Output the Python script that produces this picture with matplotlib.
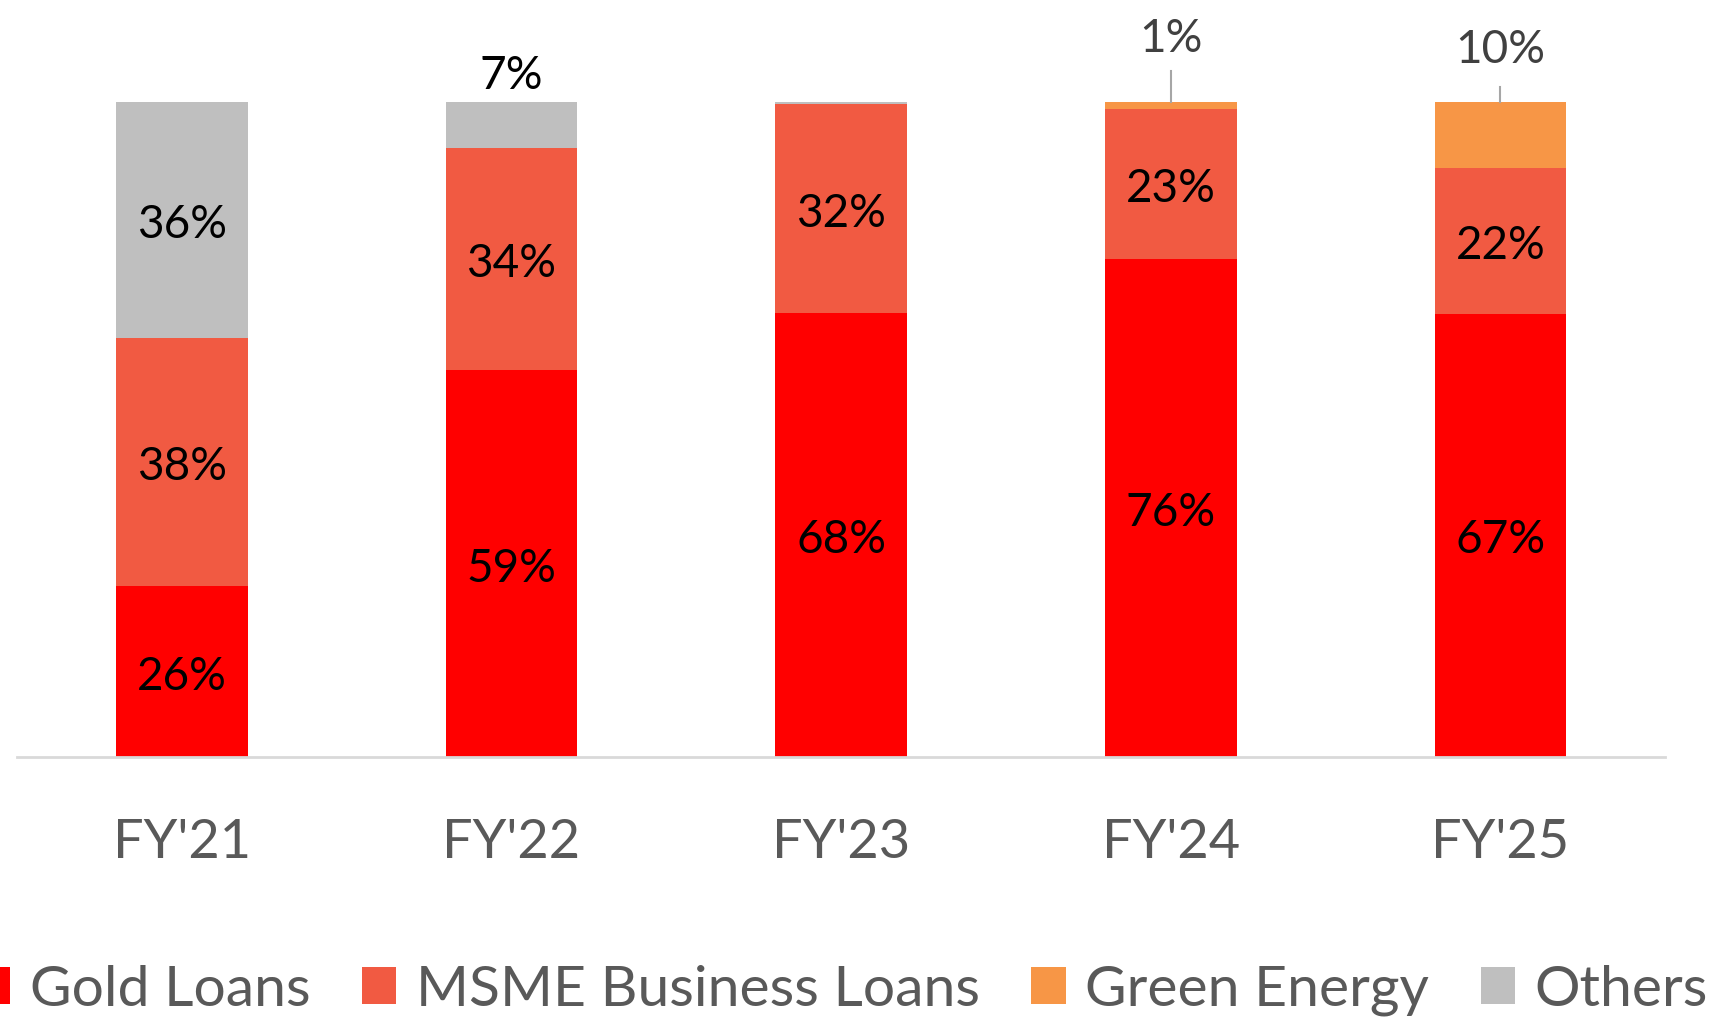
import numpy as np
import matplotlib.pyplot as plt
from matplotlib.patches import Patch

years = ["FY'21", "FY'22", "FY'23", "FY'24", "FY'25"]
gold = [26, 59, 68, 76, 67]
msme = [38, 34, 32, 23, 22]
green = [0, 0, 0, 1, 10]
others = [36, 7, 0.3, 0, 0]

series_names = ['Gold Loans', 'MSME Business Loans', 'Green Energy', 'Others']
colors = ['#FF0000', '#F15A42', '#F79646', '#BFBFBF']

plt.rcParams['font.family'] = ['Lato', 'DejaVu Sans']

fig = plt.figure(figsize=(17.15, 10.21), dpi=100)
ax = fig.add_axes([0.0099, 0.2589, 0.9611, 0.6412])

# stacked to 100%
data = np.array([gold, msme, green, others], dtype=float)
totals = data.sum(axis=0)
pct = data / totals * 100

x = np.arange(len(years))
bottom = np.zeros(len(years))
for i in range(4):
    ax.bar(x, pct[i], 0.4, bottom=bottom, color=colors[i], edgecolor='none')
    for j in range(len(years)):
        v = data[i][j]
        if v >= 20:
            ax.text(x[j], bottom[j] + pct[i][j] / 2 - 0.8, f'{v:.0f}%', ha='center', va='center',
                    fontsize=33, color='black')
    bottom += pct[i]

# small segments get their label above the bar
ax.text(x[1], 104, f'{others[1]:.0f}%', ha='center', va='center', fontsize=33, color='black')
ax.plot([x[3], x[3]], [100, 104.8], color='#A6A6A6', lw=1.5, clip_on=False)
ax.text(x[3], 109.6, f'{green[3]:.0f}%', ha='center', va='center', fontsize=33, color='#404040')
ax.plot([x[4], x[4]], [100, 102.3], color='#A6A6A6', lw=1.5, clip_on=False)
ax.text(x[4], 108.0, f'{green[4]:.0f}%', ha='center', va='center', fontsize=33, color='#404040')

ax.set_xlim(-0.5, 4.5)
ax.set_ylim(0, 100)
ax.set_xticks(x)
ax.set_xticklabels(years, fontsize=39, color='#595959')
ax.tick_params(axis='x', length=0, pad=44)
ax.set_yticks([])
for s in ['top', 'left', 'right']:
    ax.spines[s].set_visible(False)
ax.spines['bottom'].set_color('#D9D9D9')
ax.spines['bottom'].set_linewidth(2)

handles = [Patch(facecolor=c, edgecolor='none') for c in colors]
fig.legend(handles, series_names, loc='center', bbox_to_anchor=(0.491, 0.030), ncol=4,
           frameon=False, fontsize=41, labelcolor='#595959', handlelength=0.6, handleheight=0.6,
           handletextpad=0.35, columnspacing=0.9)

fig.savefig('out.png')
